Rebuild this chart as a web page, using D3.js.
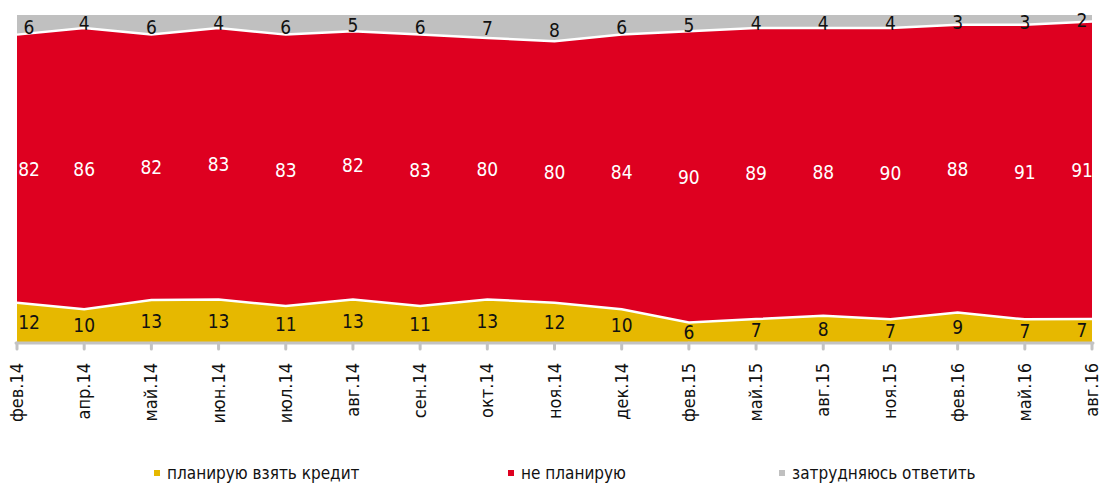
<!DOCTYPE html>
<html>
<head>
<meta charset="utf-8">
<script src="https://cdn.jsdelivr.net/npm/d3@7"></script>
<style>
  body { margin: 0; background: #fff; }
  svg { font-family: "Liberation Sans Narrow", "DejaVu Sans Condensed", sans-serif; }
</style>
</head>
<body>
<script>
// categories along the x axis
var months = ["фев.14", "апр.14", "май.14", "июн.14", "июл.14", "авг.14", "сен.14", "окт.14",
  "ноя.14", "дек.14", "фев.15", "май.15", "авг.15", "ноя.15", "фев.16", "май.16", "авг.16"];

// series values, percent
var plan = [12, 10, 13, 13, 11, 13, 11, 13, 12, 10, 6, 7, 8, 7, 9, 7, 7];
var noPlan = [82, 86, 82, 83, 83, 82, 83, 80, 80, 84, 90, 89, 88, 90, 88, 91, 91];
var hard = [6, 4, 6, 4, 6, 5, 6, 7, 8, 6, 5, 4, 4, 4, 3, 3, 2];

var seriesNames = ["планирую взять кредит", "не планирую", "затрудняюсь ответить"];
var colors = ["#e6b800", "#de0020", "#c0c0c0"];
var labelColors = ["#111", "#fff", "#111"];

var width = 1104, height = 485;

var svg = d3.select("body")
  .append("svg")
  .attr("width", width)
  .attr("height", height);

// build rows, normalized to 100%
var keys = ["plan", "noPlan", "hard"];
var rows = months.map(function(m, i) {
  var tot = plan[i] + noPlan[i] + hard[i];
  return { month: m, plan: plan[i] / tot, noPlan: noPlan[i] / tot, hard: hard[i] / tot,
    raw: [plan[i], noPlan[i], hard[i]] };
});

var stacked = d3.stack().keys(keys)(rows);

var x = d3.scalePoint()
  .domain(months)
  .range([17, 1092]);

var y = d3.scaleLinear()
  .domain([0, 1])
  .range([342, 15]);

var area = d3.area()
  .x(function(d) { return x(d.data.month); })
  .y0(function(d) { return y(d[0]); })
  .y1(function(d) { return y(d[1]); });

svg.selectAll("path.layer")
  .data(stacked)
  .enter()
  .append("path")
  .attr("class", "layer")
  .attr("d", area)
  .attr("fill", function(d, i) { return colors[i]; });

// white separators between the layers
var sep = d3.line()
  .x(function(d) { return x(d.data.month); })
  .y(function(d) { return y(d[1]); });

svg.selectAll("path.sep")
  .data(stacked.slice(0, 2))
  .enter()
  .append("path")
  .attr("class", "sep")
  .attr("d", sep)
  .attr("fill", "none")
  .attr("stroke", "#fff")
  .attr("stroke-width", 2.5);

// value labels at the middle of each band
stacked.forEach(function(layer, k) {
  svg.selectAll("text.v" + k)
    .data(layer)
    .enter()
    .append("text")
    .attr("class", "v" + k)
    .attr("x", function(d, i) {
      var px = x(d.data.month);
      if (i == 0) px += 12;
      if (i == months.length - 1) px -= 10;
      return px;
    })
    .attr("y", function(d) { return (y(d[0]) + y(d[1])) / 2 + (k == 2 ? 2 : 0); })
    .attr("dy", "0.36em")
    .attr("text-anchor", "middle")
    .attr("font-size", 19)
    .attr("fill", labelColors[k])
    .text(function(d) { return d.data.raw[k]; });
});

// x axis
var axis = svg.append("g")
  .attr("transform", "translate(0,343)");

axis.append("line")
  .attr("x1", x(months[0]) - 1)
  .attr("x2", x(months[months.length - 1]) + 1)
  .attr("stroke", "#c3c3c3")
  .attr("stroke-width", 3)
  .attr("stroke-linecap", "round");

axis.selectAll("line.tick")
  .data(months)
  .enter()
  .append("line")
  .attr("class", "tick")
  .attr("x1", function(d) { return x(d); })
  .attr("x2", function(d) { return x(d); })
  .attr("y1", 0)
  .attr("y2", 6)
  .attr("stroke", "#c3c3c3")
  .attr("stroke-width", 3)
  .attr("stroke-linecap", "round");

axis.selectAll("text")
  .data(months)
  .enter()
  .append("text")
  .attr("transform", function(d) { return "translate(" + (x(d) + 6) + ",20) rotate(-90)"; })
  .attr("text-anchor", "end")
  .attr("font-size", 18)
  .attr("fill", "#111")
  .text(function(d) { return d; });

// legend
var legendX = [154, 508, 779];
var legend = svg.selectAll("g.legend")
  .data(seriesNames)
  .enter()
  .append("g")
  .attr("class", "legend")
  .attr("transform", function(d, i) { return "translate(" + legendX[i] + ",0)"; });

legend.append("rect")
  .attr("x", 0)
  .attr("y", 470)
  .attr("width", 6)
  .attr("height", 6)
  .attr("fill", function(d, i) { return colors[i]; });

legend.append("text")
  .attr("x", 13)
  .attr("y", 479)
  .attr("font-size", 17)
  .attr("fill", "#111")
  .text(function(d) { return d; });
</script>
</body>
</html>
